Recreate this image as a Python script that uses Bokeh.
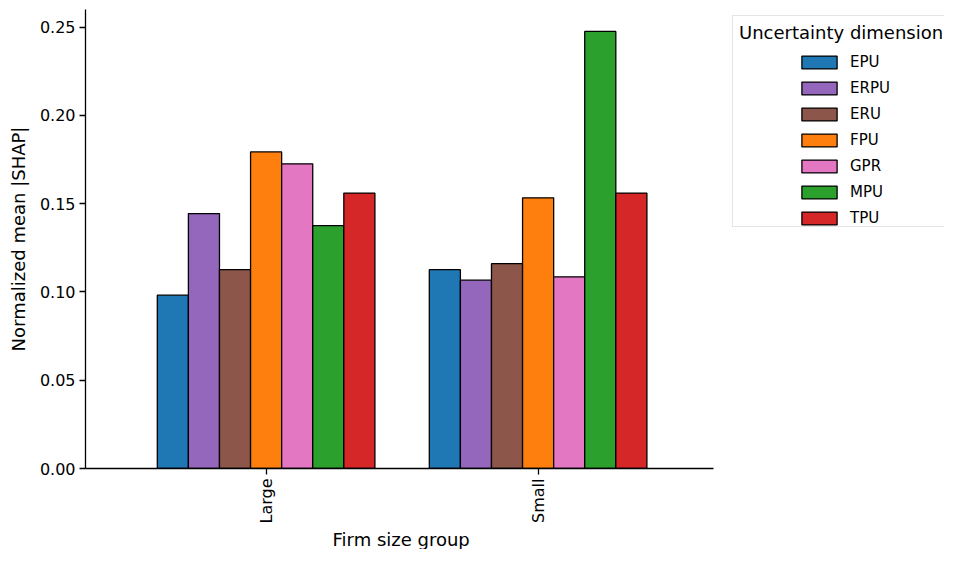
import math
from bokeh.plotting import figure
from bokeh.models import (ColumnDataSource, Range1d, FixedTicker, Title,
                          NumeralTickFormatter, Legend, LegendItem)
from bokeh.transform import dodge
from bokeh.embed import file_html
from bokeh.resources import INLINE

# ---- data ----
groups = ["Large", "Small"]
dimensions = ["EPU", "ERPU", "ERU", "FPU", "GPR", "MPU", "TPU"]
EPU = [0.0982, 0.1126]
ERPU = [0.1444, 0.1067]
ERU = [0.1126, 0.1160]
FPU = [0.1793, 0.1533]
GPR = [0.1726, 0.1086]
MPU = [0.1376, 0.2476]
TPU = [0.1560, 0.1560]
y_ticks = [0.00, 0.05, 0.10, 0.15, 0.20, 0.25]
colors = ["#1f77b4", "#9467bd", "#8c564b", "#ff7f0e", "#e377c2", "#2ca02c", "#d62728"]

series = {"EPU": EPU, "ERPU": ERPU, "ERU": ERU, "FPU": FPU,
          "GPR": GPR, "MPU": MPU, "TPU": TPU}
x_pos = list(range(len(groups)))
data = {"x": x_pos, "group": groups}
data.update(series)
src = ColumnDataSource(data)

FONT = "DejaVu Sans"
W, H = 944, 549
LEFT, TOP, RIGHT_AXIS_END = 85, 9, 713
PX_PER_UNIT = 272.0
x_lo = -0.664
x_hi_axis = x_lo + (RIGHT_AXIS_END - LEFT) / PX_PER_UNIT
x_hi = x_lo + (W - LEFT) / PX_PER_UNIT

p = figure(
    width=W, height=H,
    x_range=Range1d(x_lo, x_hi),
    y_range=Range1d(0, 0.26),
    output_backend="svg", toolbar_location=None,
    min_border_left=LEFT, min_border_right=0, min_border_top=TOP, min_border_bottom=40,
)
p.outline_line_color = None
p.xgrid.visible = False
p.ygrid.visible = False
p.background_fill_color = "white"
p.border_fill_color = "white"

n = len(dimensions)
bw = 0.8 / n
renderers = []
for i, (dim, col) in enumerate(zip(dimensions, colors)):
    r = p.vbar(x=dodge("x", (i - (n - 1) / 2) * bw), top=dim, width=bw, source=src,
               fill_color=col, line_color="black", line_width=1.3)
    renderers.append(r)

# axes styling (matplotlib-like)
for ax in (p.xaxis[0], p.yaxis[0]):
    ax.axis_line_width = 1.3
    ax.axis_line_color = "black"
    ax.major_tick_line_width = 1.3
    ax.major_tick_line_color = "black"
    ax.major_tick_in = 0
    ax.major_tick_out = 6
    ax.minor_tick_line_color = None
    ax.major_label_text_font = FONT
    ax.major_label_text_font_size = "16px"
    ax.major_label_text_color = "black"
    ax.axis_label_text_font = FONT
    ax.axis_label_text_font_size = "18px"
    ax.axis_label_text_font_style = "normal"
    ax.axis_label_text_color = "black"

p.yaxis.ticker = FixedTicker(ticks=y_ticks)
p.yaxis.formatter = NumeralTickFormatter(format="0.00")
p.yaxis.axis_label = "Normalized mean |SHAP|"
p.yaxis.major_label_standoff = 4
p.yaxis.axis_label_standoff = 8

p.xaxis.ticker = FixedTicker(ticks=x_pos)
p.xaxis.major_label_overrides = {x: g for x, g in zip(x_pos, groups)}
p.xaxis.major_label_orientation = math.pi / 2
p.xaxis.major_label_standoff = 4
p.xaxis.bounds = (x_lo, x_hi_axis)

# x-axis label, centred under the drawn axis line
x_label = Title(text="Firm size group", align="left", offset=247, standoff=0,
                text_font=FONT, text_font_size="18px", text_font_style="normal",
                text_color="black")
p.add_layout(x_label, "below")

# invisible renderer used for the framed legend (box + title)
dummy = p.vbar(x=[], top=[], width=0.1, fill_alpha=0, line_alpha=0)

common = dict(
    padding=6, spacing=8, glyph_width=44, glyph_height=16, label_height=18,
    label_standoff=9, title_standoff=3, margin=0,
    title_text_font=FONT, title_text_font_size="18px", title_text_font_style="normal",
    title_text_color="black",
    label_text_font=FONT, label_text_font_size="15px", label_text_color="black",
)
LEG_BOTTOM = 241   # px above the frame bottom
legend_box = Legend(
    items=[LegendItem(label=" ", renderers=[dummy]) for _ in dimensions],
    title="Uncertainty dimension",
    location=(732 - LEFT, LEG_BOTTOM),
    border_line_color="#cccccc", border_line_width=1.3,
    background_fill_color="white", background_fill_alpha=1.0,
    **common,
)
legend_items = Legend(
    items=[LegendItem(label=d, renderers=[r]) for d, r in zip(dimensions, renderers)],
    title=" ",
    location=(797 - LEFT, LEG_BOTTOM),
    border_line_color=None, background_fill_alpha=0.0,
    **common,
)
p.add_layout(legend_box)
p.add_layout(legend_items)

open("out.html", "w").write(file_html(p, INLINE))
